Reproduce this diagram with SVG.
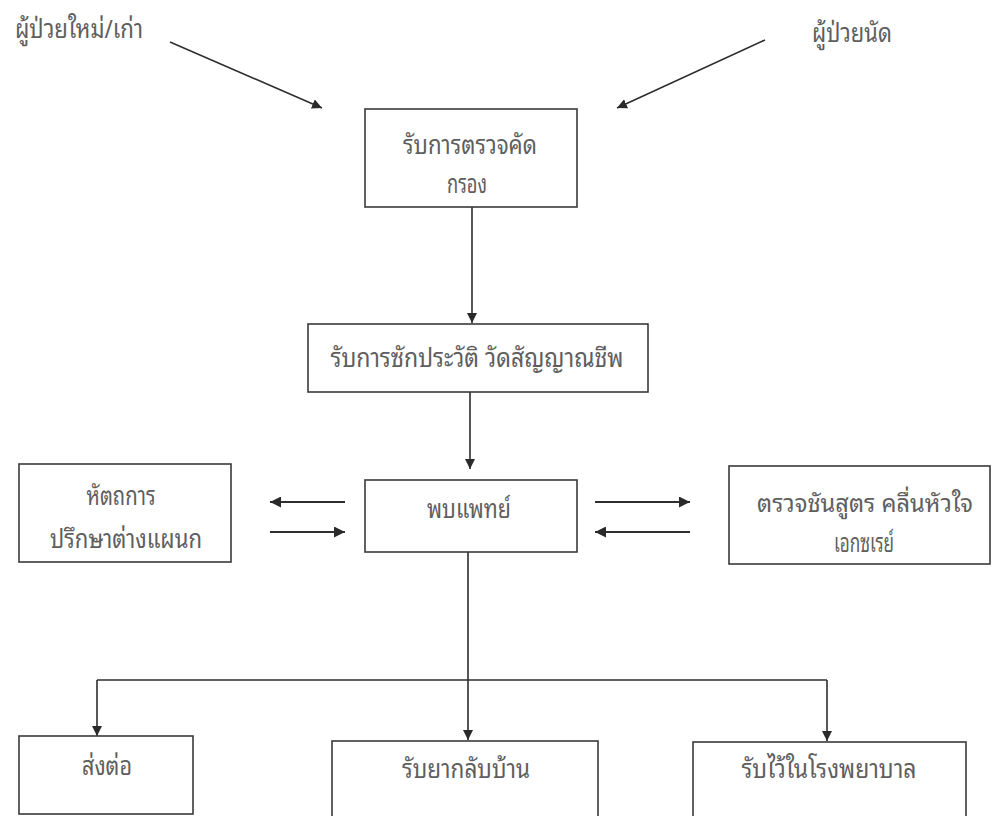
<svg xmlns="http://www.w3.org/2000/svg" width="992" height="816" viewBox="0 0 992 816">
<defs>
<marker id="ah" viewBox="0 0 10 10" refX="10" refY="5" markerWidth="10" markerHeight="10" markerUnits="userSpaceOnUse" orient="auto">
<path d="M0,0 L10,5 L0,10 z" fill="#2a2a2a"/>
</marker>
<marker id="ah2" viewBox="0 0 10 10" refX="10" refY="5" markerWidth="12" markerHeight="11" markerUnits="userSpaceOnUse" orient="auto">
<path d="M0,0 L10,5 L0,10 z" fill="#2a2a2a"/>
</marker>
<style>
.box{fill:#ffffff;stroke:#3a3a3a;stroke-width:1.6}
.t{font-family:"Noto Sans Thai Looped","Loma","Garuda","Noto Sans Thai","Noto Sans","Liberation Sans",sans-serif;font-size:26px;fill:#5e5e5e;text-anchor:middle}
.s{font-size:24px}
.c{fill:none;stroke:#2e2e2e;stroke-width:1.6}
.c2{fill:none;stroke:#2e2e2e;stroke-width:2.2}
</style>
</defs>
<rect width="992" height="816" fill="#ffffff"/>
<g id="connectors">
<line class="c" x1="170" y1="42" x2="322" y2="108" marker-end="url(#ah)"/>
<line class="c" x1="765" y1="40" x2="617" y2="108" marker-end="url(#ah)"/>
<line class="c" x1="472" y1="207" x2="472" y2="323" marker-end="url(#ah)"/>
<line class="c" x1="470" y1="392" x2="470" y2="469" marker-end="url(#ah)"/>
<line class="c2" x1="345" y1="502" x2="270" y2="502" marker-end="url(#ah2)"/>
<line class="c2" x1="270" y1="532" x2="345" y2="532" marker-end="url(#ah2)"/>
<line class="c2" x1="595" y1="502" x2="690" y2="502" marker-end="url(#ah2)"/>
<line class="c2" x1="690" y1="532" x2="595" y2="532" marker-end="url(#ah2)"/>
<line class="c" x1="468" y1="552" x2="468" y2="740" marker-end="url(#ah)"/>
<polyline class="c" points="97,680 827,680"/>
<polyline class="c" points="97,680 97,736" marker-end="url(#ah)"/>
<polyline class="c" points="827,680 827,741" marker-end="url(#ah)"/>
</g>
<g id="label-new-old">
<text class="t" x="79" y="38" textLength="128" lengthAdjust="spacingAndGlyphs">ผู้ป่วยใหม่/เก่า</text>
</g>
<g id="label-appointment">
<text class="t" x="852" y="42" textLength="80" lengthAdjust="spacingAndGlyphs">ผู้ป่วยนัด</text>
</g>
<g id="screening">
<rect class="box" x="365" y="109" width="212" height="98"/>
<text class="t" x="470" y="154" textLength="134" lengthAdjust="spacingAndGlyphs">รับการตรวจคัด</text>
<text class="t" x="467" y="193" textLength="40" lengthAdjust="spacingAndGlyphs">กรอง</text>
</g>
<g id="history">
<rect class="box" x="308" y="324" width="340" height="68"/>
<text class="t" x="477" y="367" textLength="293" lengthAdjust="spacingAndGlyphs">รับการซักประวัติ  วัดสัญญาณชีพ</text>
</g>
<g id="doctor">
<rect class="box" x="365" y="480" width="212" height="72"/>
<text class="t" x="469" y="518" textLength="84" lengthAdjust="spacingAndGlyphs">พบแพทย์</text>
</g>
<g id="procedure">
<rect class="box" x="19" y="464" width="212" height="98"/>
<text class="t" x="121" y="505" textLength="69" lengthAdjust="spacingAndGlyphs">หัตถการ</text>
<text class="t" x="126" y="548" textLength="152" lengthAdjust="spacingAndGlyphs">ปรึกษาต่างแผนก</text>
</g>
<g id="lab">
<rect class="box" x="729" y="466" width="261" height="98"/>
<text class="t s" x="865" y="512" textLength="216" lengthAdjust="spacingAndGlyphs">ตรวจชันสูตร  คลื่นหัวใจ</text>
<text class="t" x="864" y="552" textLength="60" lengthAdjust="spacingAndGlyphs">เอกซเรย์</text>
</g>
<g id="refer">
<rect class="box" x="19" y="736" width="174" height="78"/>
<text class="t" x="107" y="775" textLength="50" lengthAdjust="spacingAndGlyphs">ส่งต่อ</text>
</g>
<g id="home-meds">
<rect class="box" x="332" y="741" width="266" height="90"/>
<text class="t" x="466" y="778" textLength="128" lengthAdjust="spacingAndGlyphs">รับยากลับบ้าน</text>
</g>
<g id="admit">
<rect class="box" x="693" y="742" width="273" height="90"/>
<text class="t" x="829" y="778" textLength="175" lengthAdjust="spacingAndGlyphs">รับไว้ในโรงพยาบาล</text>
</g>
</svg>
